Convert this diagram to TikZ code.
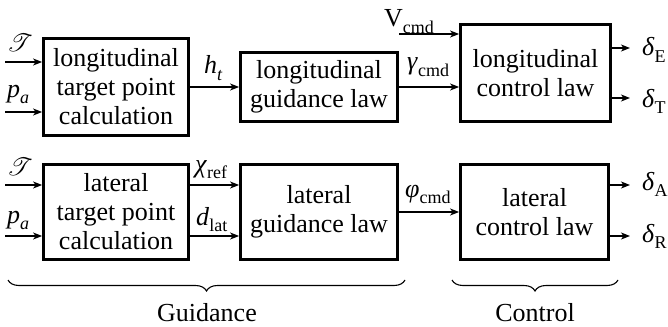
\documentclass[tikz,border=0pt]{standalone}
\usepackage{fontspec}
\setmainfont{Liberation Serif}
\usepackage{mathrsfs}
\usetikzlibrary{arrows.meta,decorations.pathreplacing}
\newcommand{\sbs}[1]{\raisebox{-0.24em}{\fontsize{18}{18}\selectfont #1}}
\newcommand{\scrT}{$\mathscr{T}$}
\begin{document}
\begin{tikzpicture}[x=1pt,y=-1pt,
  every node/.style={font=\fontsize{26}{29}\selectfont},
  blk/.style={draw,line width=2.8pt,align=center,inner sep=0pt},
  sig/.style={line width=1.2pt,-{Stealth[length=9pt,width=7pt,inset=2.5pt]}},
  lbl/.style={inner sep=0pt,anchor=base west},
  brc/.style={line width=1.1pt,decorate,decoration={brace,amplitude=11pt}}]
\useasboundingbox (0,0) rectangle (668,326);
% blocks
\node[blk,minimum width=145pt,minimum height=97pt] (b1) at (116,87) {longitudinal\\target point\\calculation};
\node[blk,minimum width=157pt,minimum height=69pt] (b2) at (319,87) {longitudinal\\guidance law};
\node[blk,minimum width=150pt,minimum height=97pt] (b3) at (535.5,73) {longitudinal\\control law};
\node[blk,minimum width=145pt,minimum height=95pt] (b4) at (116,212) {lateral\\target point\\calculation};
\node[blk,minimum width=157pt,minimum height=95pt] (b5) at (319,212) {lateral\\guidance law};
\node[blk,minimum width=148pt,minimum height=95pt] (b6) at (534.5,212) {lateral\\control law};
% coordinates
\coordinate (i1) at (5,62);
\coordinate (i2) at (5,112);
\coordinate (i3) at (5,185);
\coordinate (i4) at (5,236);
\coordinate (v) at (399,34);
\coordinate (o1) at (630,48);
\coordinate (o2) at (630,98);
\coordinate (o3) at (630,185);
\coordinate (o4) at (630,236);
% connectors
\draw[sig] (i1) -- (i1 -| b1.west);
\draw[sig] (i2) -- (i2 -| b1.west);
\draw[sig] (i3) -- (i3 -| b4.west);
\draw[sig] (i4) -- (i4 -| b4.west);
\draw[sig] (b1.east) -- (b2.west);
\draw[sig] (v) -- (v -| b3.west);
\draw[sig] (b2.east) -- (b2.east -| b3.west);
\draw[sig] (o1 -| b3.east) -- (o1);
\draw[sig] (o2 -| b3.east) -- (o2);
\draw[sig] (i3 -| b4.east) -- (i3 -| b5.west);
\draw[sig] (i4 -| b4.east) -- (i4 -| b5.west);
\draw[sig] (b5.east) -- (b5.east -| b6.west);
\draw[sig] (o3 -| b6.east) -- (o3);
\draw[sig] (o4 -| b6.east) -- (o4);
% labels
\node[lbl] (l1) at (7,52) {\scrT};
\node[lbl] (l2) at (7,97) {\textit{p}\sbs{\textit{a}}};
\node[lbl] (l3) at (7,175) {\scrT};
\node[lbl] (l4) at (7,223) {\textit{p}\sbs{\textit{a}}};
\node[lbl] (l5) at (204,74) {\textit{h}\sbs{\textit{t}}};
\node[lbl] (l6) at (384,27) {V\sbs{cmd}};
\node[lbl] (l7) at (407,70) {\textit{γ}\sbs{cmd}};
\node[lbl] (l8) at (642,56) {\textit{δ}\sbs{E}};
\node[lbl] (l9) at (642,107) {\textit{δ}\sbs{T}};
\node[lbl] (l10) at (195,172) {\textit{χ}\sbs{ref}};
\node[lbl] (l11) at (196,225) {\textit{d}\sbs{lat}};
\node[lbl] (l12) at (405,197) {\textit{φ}\sbs{cmd}};
\node[lbl] (l13) at (642,190) {\textit{δ}\sbs{A}};
\node[lbl] (l14) at (642,242) {\textit{δ}\sbs{R}};
% braces
\coordinate (g1) at (405,280);
\coordinate (g2) at (8,280);
\coordinate (c1) at (618,280);
\coordinate (c2) at (452,280);
\draw[brc] (g1) -- (g2);
\draw[brc] (c1) -- (c2);
\node[anchor=base,inner sep=0pt,text depth=0pt] (gl) at (207,321) {Guidance};
\node[anchor=base,inner sep=0pt,text depth=0pt] (cl) at (535,321) {Control};
\end{tikzpicture}
\end{document}
